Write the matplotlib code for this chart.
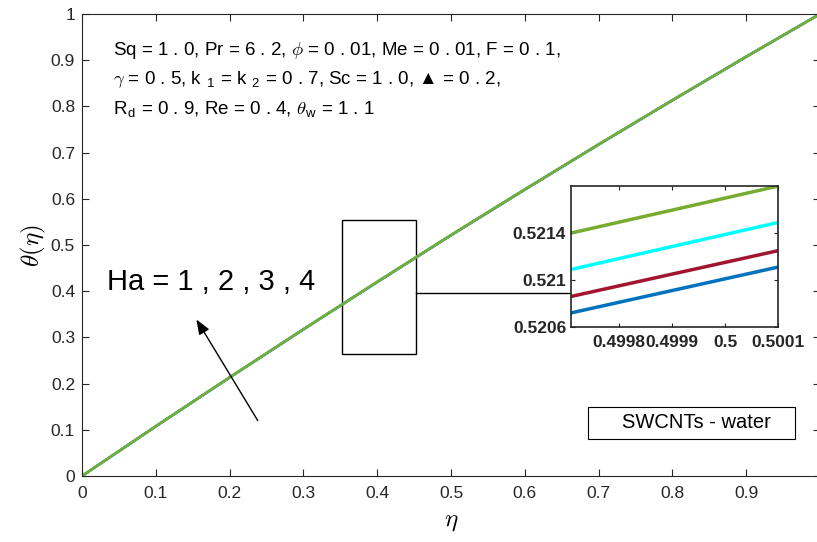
import matplotlib.pyplot as plt
from matplotlib.patches import Rectangle

plt.rcParams['font.family'] = ['Liberation Sans', 'DejaVu Sans']
plt.rcParams['mathtext.fontset'] = 'cm'

# theta(eta), Ha = 1..4 (curves overlap at this scale)
eta = [0.0, 0.1, 0.2, 0.3, 0.4, 0.5, 0.6, 0.7, 0.8, 0.9, 1.0]
theta_ha1 = [0.0, 0.1075, 0.2132, 0.3173, 0.4198, 0.5210, 0.6199, 0.7174, 0.8132, 0.9075, 1.0]
theta_ha2 = [0.0, 0.1075, 0.2133, 0.3174, 0.4199, 0.5211, 0.6200, 0.7175, 0.8133, 0.9075, 1.0]
theta_ha3 = [0.0, 0.1076, 0.2134, 0.3175, 0.4201, 0.5214, 0.6202, 0.7176, 0.8134, 0.9076, 1.0]
theta_ha4 = [0.0, 0.1077, 0.2135, 0.3177, 0.4203, 0.5217, 0.6204, 0.7178, 0.8135, 0.9076, 1.0]

# zoomed window values
eta_zoom = [0.49971, 0.5001]
zoom_ha1 = [0.52072, 0.52111]
zoom_ha2 = [0.52086, 0.52125]
zoom_ha3 = [0.52109, 0.52149]
zoom_ha4 = [0.52140, 0.52180]

colors = ['#0072BD', '#A2142F', '#00FFFF', '#77AC30']
ticks = ['0', '0.1', '0.2', '0.3', '0.4', '0.5', '0.6', '0.7', '0.8', '0.9', '1']

fig = plt.figure(figsize=(8.17, 5.42), dpi=100)
ax = fig.add_axes([0.1004, 0.1218, 0.9033, 0.8524])

for th, c in zip([theta_ha1, theta_ha2, theta_ha3, theta_ha4], colors):
    ax.plot(eta, th, color=c, lw=1.8)

ax.set_xlim(0, 1)
ax.set_ylim(0, 1)
ax.set_xticks([i / 10 for i in range(11)])
ax.set_yticks([i / 10 for i in range(11)])
ax.set_xticklabels(ticks)
ax.set_yticklabels(ticks)
ax.tick_params(direction='in', top=True, right=True, labelsize=12.5, length=5, colors='#262626')
ax.tick_params(axis='x', pad=7)
ax.tick_params(axis='y', pad=5)
for s in ax.spines.values():
    s.set_color('#262626')
    s.set_linewidth(0.8)
ax.set_xlabel(r'$\eta$', fontsize=18, labelpad=6)
ax.set_ylabel(r'$\theta(\eta)$', fontsize=18, labelpad=2)

ax.text(0.042, 0.922, r'Sq = 1 . 0, Pr = 6 . 2, $\phi$ = 0 . 01, Me = 0 . 01, F = 0 . 1,',
        fontsize=13.5, va='center')
ax.text(0.042, 0.857, r'$\gamma$ = 0 . 5, k $_{\mathregular{1}}$ = k $_{\mathregular{2}}$ = 0 . 7, Sc = 1 . 0, ▲ = 0 . 2,',
        fontsize=13.5, va='center')
ax.text(0.042, 0.792, r'R$_{\mathregular{d}}$ = 0 . 9, Re = 0 . 4, $\theta_{\mathregular{w}}$ = 1 . 1',
        fontsize=13.5, va='center')
ax.text(0.034, 0.42, 'Ha = 1 , 2 , 3 , 4', fontsize=21, va='center')

ax.annotate('', xy=(0.153, 0.344), xytext=(0.240, 0.115),
            arrowprops=dict(arrowstyle='-|>,head_length=0.9,head_width=0.35', color='black', lw=1))

ax.add_patch(Rectangle((0.352, 0.264), 0.101, 0.29, fill=False, ec='black', lw=1))
ax.plot([0.453, 0.663], [0.396, 0.396], color='black', lw=1)

ax.add_patch(Rectangle((0.686, 0.080), 0.280, 0.069, fill=True, fc='white', ec='black', lw=0.8, zorder=3))
ax.text(0.833, 0.115, 'SWCNTs - water', fontsize=14.5, ha='center', va='center', zorder=4)

ins = fig.add_axes([0.699, 0.3967, 0.2534, 0.260])
for z, c in zip([zoom_ha1, zoom_ha2, zoom_ha3, zoom_ha4], colors):
    ins.plot(eta_zoom, z, color=c, lw=2.5)
ins.set_xlim(0.49971, 0.5001)
ins.set_ylim(0.5206, 0.5218)
ins.set_xticks([0.4998, 0.4999, 0.5, 0.5001])
ins.set_xticklabels(['0.4998', '0.4999', '0.5', '0.5001'], fontweight='bold')
ins.set_yticks([0.5206, 0.521, 0.5214])
ins.set_yticklabels(['0.5206', '0.521', '0.5214'], fontweight='bold')
ins.tick_params(direction='in', top=True, right=True, labelsize=12.5, length=3, colors='#262626')
ins.tick_params(axis='x', pad=6)
for s in ins.spines.values():
    s.set_color('#262626')
    s.set_linewidth(1.2)

fig.savefig('out.png', dpi=100)
